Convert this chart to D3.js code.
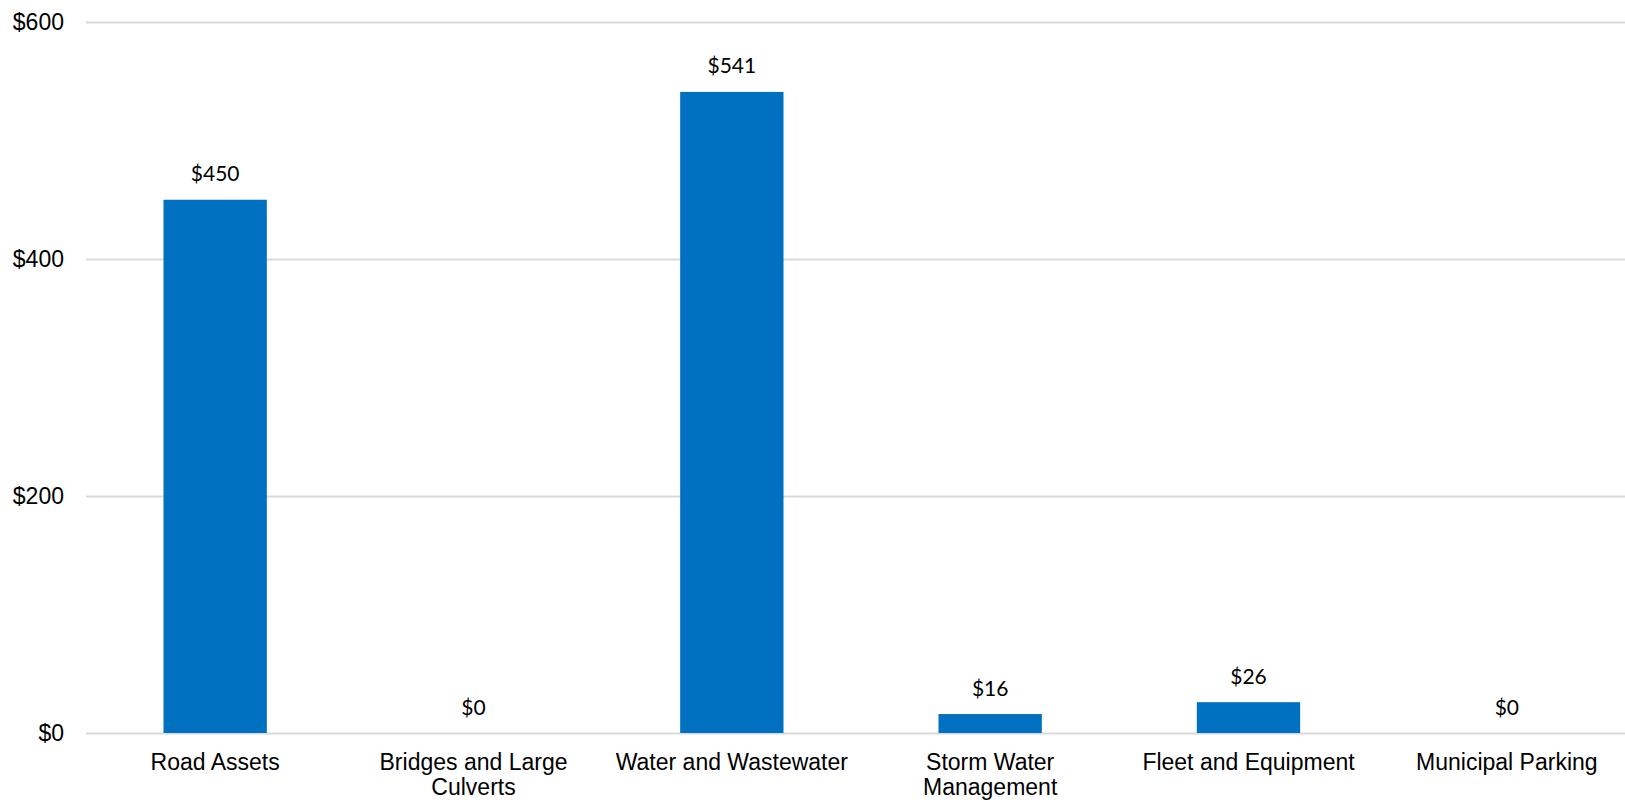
<!DOCTYPE html>
<html>
<head>
<meta charset="utf-8">
<script src="https://cdn.jsdelivr.net/npm/d3@7/dist/d3.min.js"></script>
<style>
  html, body { margin: 0; padding: 0; background: #fff; }
  svg { display: block; }
</style>
</head>
<body>
<svg id="chart" width="1625" height="803"></svg>
<script>
const categories = ["Road Assets", "Bridges and Large Culverts", "Water and Wastewater", "Storm Water Management", "Fleet and Equipment", "Municipal Parking"];
const categoryLines = [["Road Assets"], ["Bridges and Large", "Culverts"], ["Water and Wastewater"], ["Storm Water", "Management"], ["Fleet and Equipment"], ["Municipal Parking"]];
const values = [450, 0, 541, 16, 26, 0];
const yTicks = [0, 200, 400, 600];
const yTickLabels = ["$0", "$200", "$400", "$600"];

const svg = d3.select("#chart");
const margin = { left: 86, right: -11, top: 22, bottom: 70 };
const W = 1625, H = 803;

const x = d3.scaleBand()
  .domain(categories)
  .range([margin.left, W - margin.right])
  .paddingInner(0.6)
  .paddingOuter(0.3);

const y = d3.scaleLinear()
  .domain([0, 600])
  .range([733, margin.top]);

// gridlines + y labels
const yAxis = d3.axisLeft(y)
  .tickValues(yTicks)
  .tickSize(-(W - margin.right - margin.left))
  .tickPadding(22)
  .tickFormat((d, i) => yTickLabels[i]);

const gy = svg.append("g")
  .attr("transform", `translate(${margin.left},0)`)
  .call(yAxis);
gy.select(".domain").remove();
gy.selectAll(".tick line").attr("stroke", "#d9d9d9").attr("stroke-width", 2);
gy.selectAll(".tick text")
  .attr("font-family", "'Liberation Sans', Arial, sans-serif")
  .attr("font-size", 23)
  .attr("fill", "#000");

// bars
svg.append("g").selectAll("rect")
  .data(values)
  .join("rect")
  .attr("x", (d, i) => x(categories[i]))
  .attr("width", x.bandwidth())
  .attr("y", d => y(d))
  .attr("height", d => y(0) - y(d))
  .attr("fill", "#0070c0");

// value labels
svg.append("g").selectAll("text")
  .data(values)
  .join("text")
  .attr("x", (d, i) => x(categories[i]) + x.bandwidth() / 2)
  .attr("y", d => y(d) - 18.5)
  .attr("text-anchor", "middle")
  .attr("font-family", "Lato, 'Open Sans', sans-serif")
  .attr("font-size", 21)
  .attr("fill", "#000")
  .text(d => "$" + d3.format(",")(d));

// category labels via bottom axis
const xAxis = d3.axisBottom(x).tickSize(0).tickFormat("");
const gx = svg.append("g")
  .attr("transform", `translate(0,${y(0)})`)
  .call(xAxis);
gx.select(".domain").remove();
gx.selectAll(".tick").each(function(d, i) {
  const t = d3.select(this).append("text")
    .attr("text-anchor", "middle")
    .attr("font-family", "'Liberation Sans', Arial, sans-serif")
    .attr("font-size", 23)
    .attr("fill", "#000");
  categoryLines[i].forEach((line, k) => {
    t.append("tspan").attr("x", 0).attr("y", 37 + k * 24.5).text(line);
  });
});
</script>
</body>
</html>
